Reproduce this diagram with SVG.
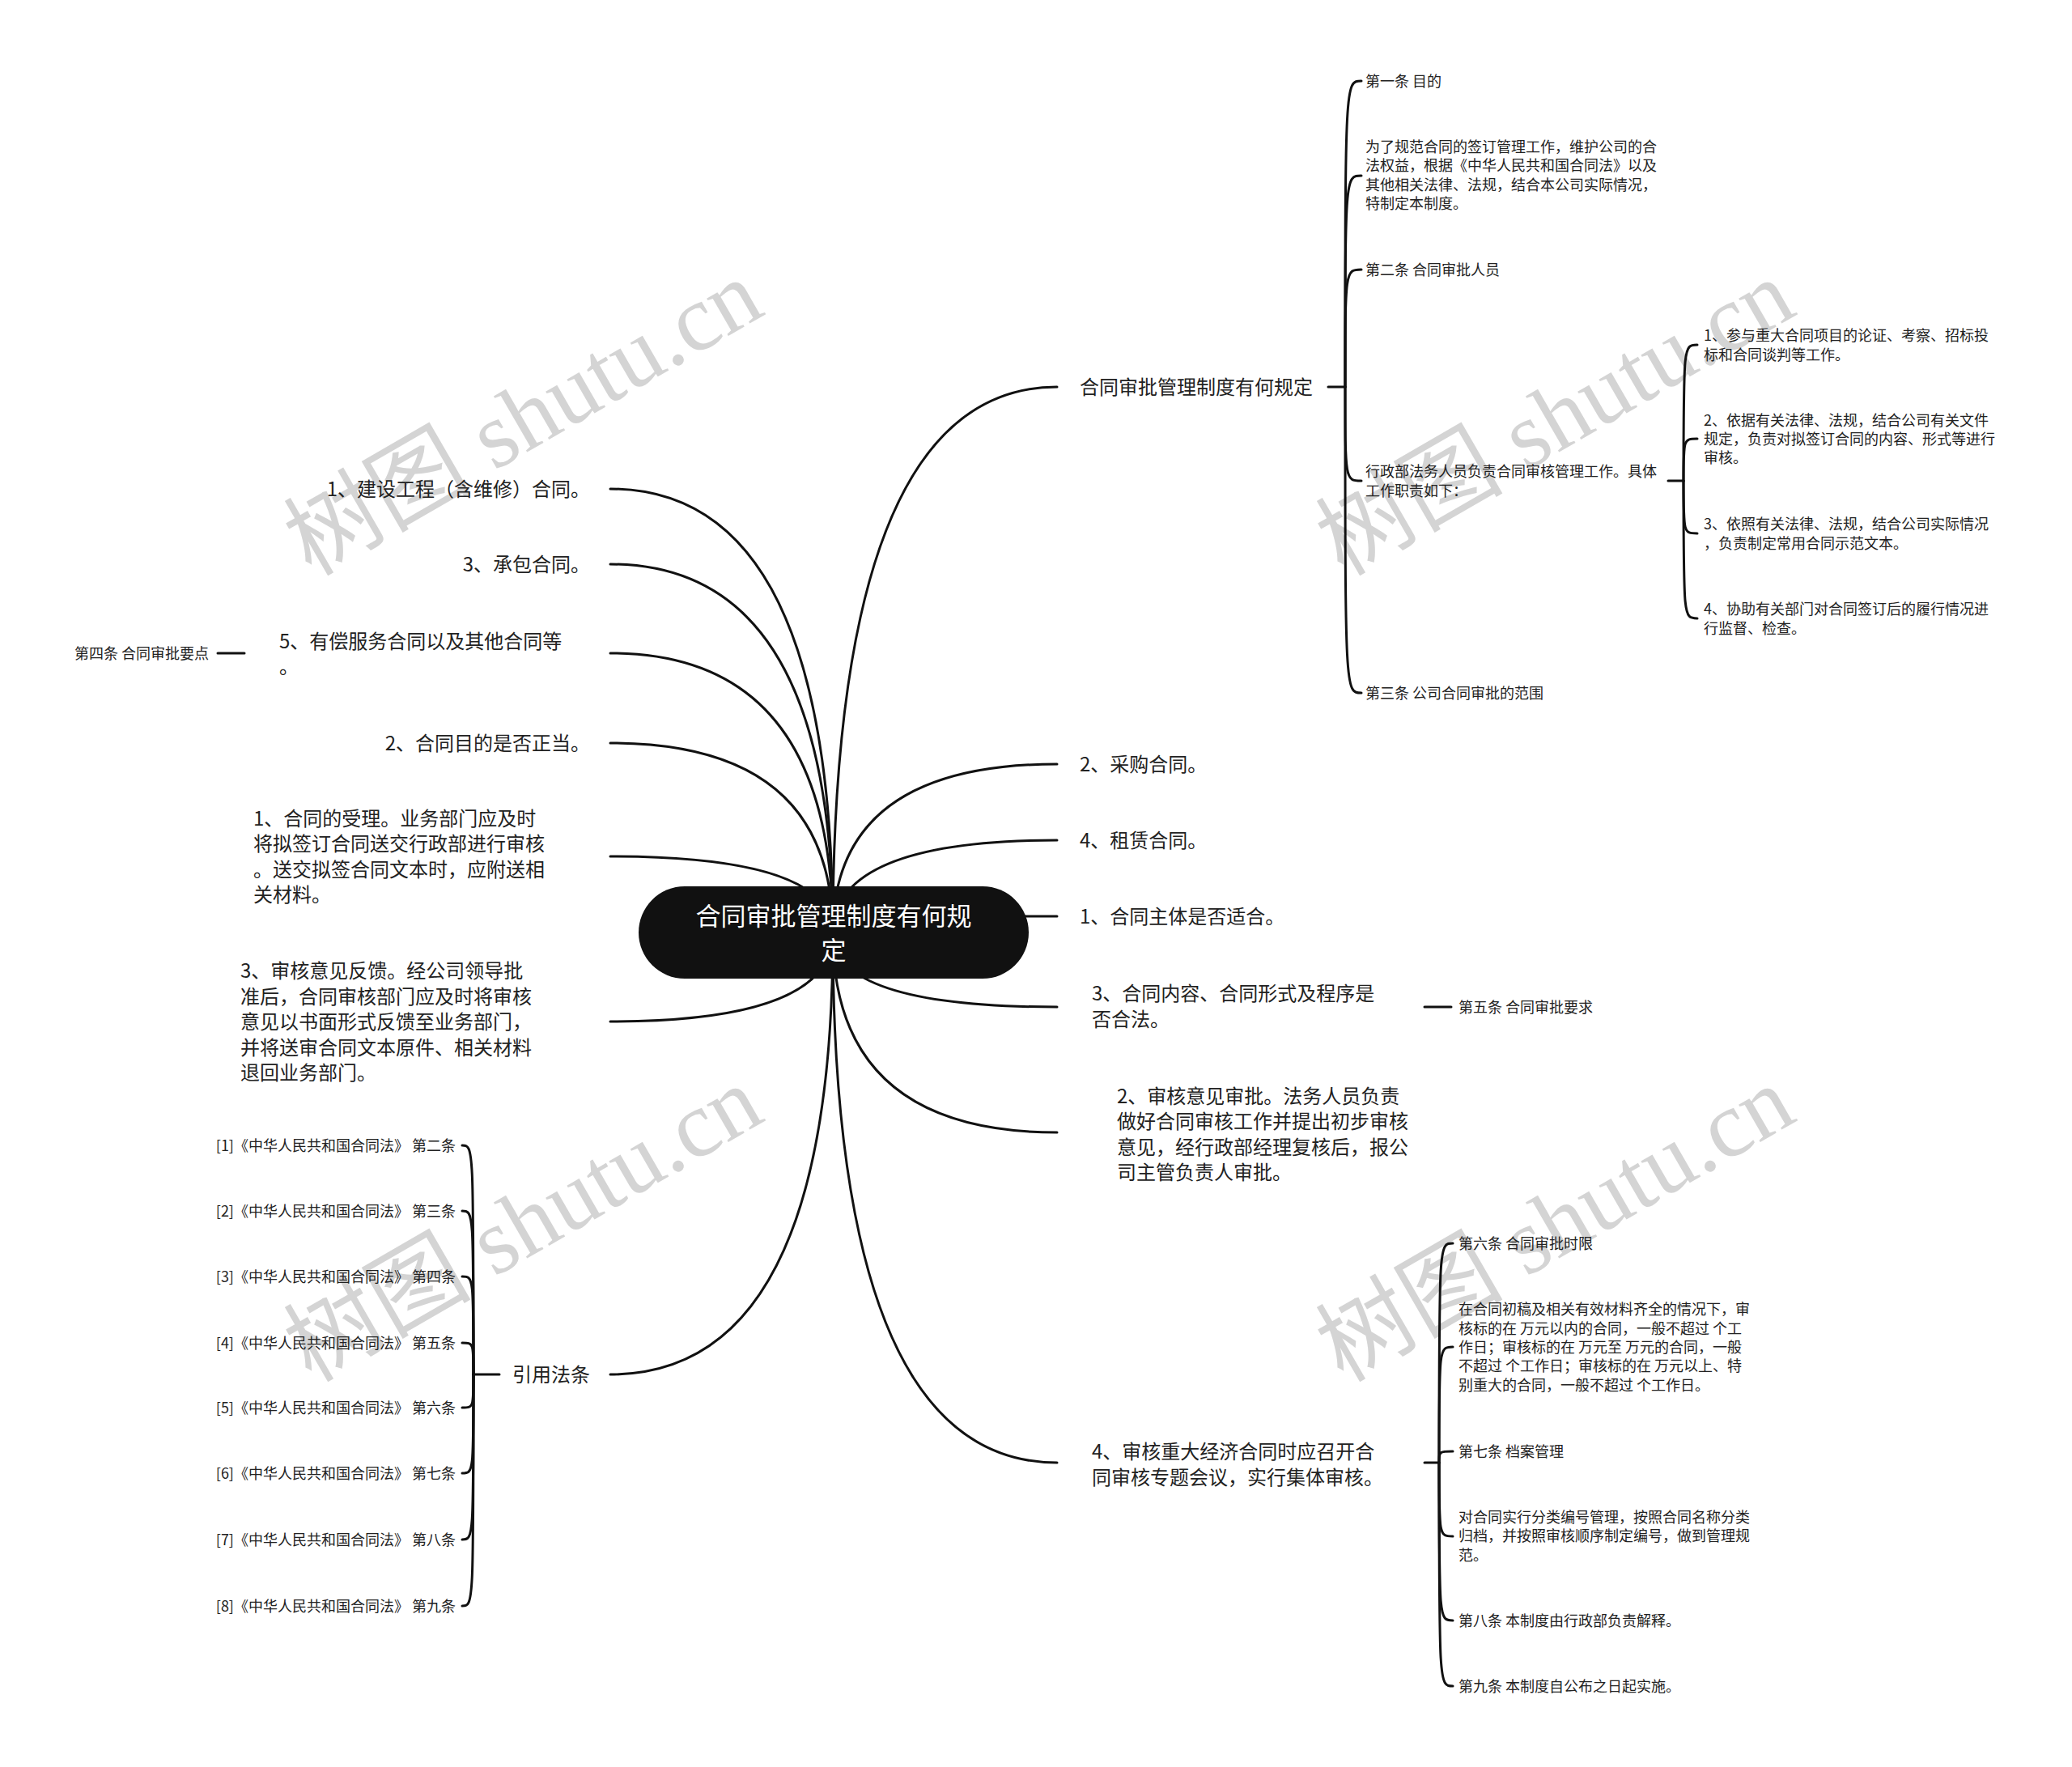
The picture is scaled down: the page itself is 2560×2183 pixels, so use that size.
<svg xmlns="http://www.w3.org/2000/svg" width="2560" height="2183" viewBox="0 0 2560 2183">
<style>
text { font-family: "Noto Sans CJK SC", "Noto Sans", sans-serif; }
.t1 { font-size: 24px; fill: #222; }
.t2 { font-size: 18px; fill: #222; }
.title { font-size: 31px; fill: #fff; }
.link { fill: none; stroke: #111; stroke-width: 3; stroke-linecap: round; }
.wm { font-family: "Liberation Serif", "Noto Sans CJK SC", serif; font-size: 116px; fill: #d4d4d4; }
</style>
<rect x="0" y="0" width="2560" height="2183" fill="#fff"/>
<g id="watermarks">
<text class="wm" x="666" y="550" text-anchor="middle" transform="rotate(-30 666 550)">树图 shutu.cn</text>
<text class="wm" x="1941" y="550" text-anchor="middle" transform="rotate(-30 1941 550)">树图 shutu.cn</text>
<text class="wm" x="666" y="1546" text-anchor="middle" transform="rotate(-30 666 1546)">树图 shutu.cn</text>
<text class="wm" x="1941" y="1546" text-anchor="middle" transform="rotate(-30 1941 1546)">树图 shutu.cn</text>
</g>
<g id="connectors">
<path class="link" d="M1029 1153 Q1029 478 1306 478"/>
<path class="link" d="M1029 1153 Q1029 944 1306 944"/>
<path class="link" d="M1029 1153 Q1029 1038 1306 1038"/>
<path class="link" d="M1029 1132 H1306"/>
<path class="link" d="M1029 1153 Q1029 1244 1306 1244"/>
<path class="link" d="M1029 1153 Q1029 1399 1306 1399"/>
<path class="link" d="M1029 1153 Q1029 1807 1306 1807"/>
<path class="link" d="M1029 1153 Q1029 604 754 604"/>
<path class="link" d="M1029 1153 Q1029 697 754 697"/>
<path class="link" d="M1029 1153 Q1029 807 754 807"/>
<path class="link" d="M1029 1153 Q1029 918 754 918"/>
<path class="link" d="M1029 1153 Q1029 1058 754 1058"/>
<path class="link" d="M1029 1153 Q1029 1262 754 1262"/>
<path class="link" d="M1029 1153 Q1029 1698 754 1698"/>
<!-- R1 bracket -->
<path class="link" d="M1641 478 H1662"/>
<path class="link" d="M1662 478 C1662 100 1662 100 1682 100"/>
<path class="link" d="M1662 478 C1662 217 1662 217 1682 217"/>
<path class="link" d="M1662 478 C1662 333 1662 333 1682 333"/>
<path class="link" d="M1662 478 C1662 594 1662 594 1682 594"/>
<path class="link" d="M1662 478 C1662 856 1662 856 1682 856"/>
<!-- sub bracket -->
<path class="link" d="M2061 594 H2080"/>
<path class="link" d="M2080 594 C2080 426 2080 426 2097 426"/>
<path class="link" d="M2080 594 C2080 542 2080 542 2097 542"/>
<path class="link" d="M2080 594 C2080 659 2080 659 2097 659"/>
<path class="link" d="M2080 594 C2080 764 2080 764 2097 764"/>
<!-- R5 child -->
<path class="link" d="M1760 1244 H1793"/>
<!-- R7 bracket -->
<path class="link" d="M1760 1807 H1778"/>
<path class="link" d="M1778 1807 C1778 1536 1778 1536 1795 1536"/>
<path class="link" d="M1778 1807 C1778 1664 1778 1664 1795 1664"/>
<path class="link" d="M1778 1807 C1778 1793 1778 1793 1795 1793"/>
<path class="link" d="M1778 1807 C1778 1898 1778 1898 1795 1898"/>
<path class="link" d="M1778 1807 C1778 2002 1778 2002 1795 2002"/>
<path class="link" d="M1778 1807 C1778 2083 1778 2083 1795 2083"/>
<!-- L3 child -->
<path class="link" d="M302 807 H269"/>
<!-- L7 bracket -->
<path class="link" d="M617 1698 H585"/>
<path class="link" d="M585 1698 C585 1415 585 1415 571 1415"/>
<path class="link" d="M585 1698 C585 1496 585 1496 571 1496"/>
<path class="link" d="M585 1698 C585 1577 585 1577 571 1577"/>
<path class="link" d="M585 1698 C585 1659 585 1659 571 1659"/>
<path class="link" d="M585 1698 C585 1739 585 1739 571 1739"/>
<path class="link" d="M585 1698 C585 1820 585 1820 571 1820"/>
<path class="link" d="M585 1698 C585 1902 585 1902 571 1902"/>
<path class="link" d="M585 1698 C585 1984 585 1984 571 1984"/>
</g>
<g id="root">
<rect x="789" y="1095" width="482" height="114" rx="57" fill="#111"/>
<text class="title" text-anchor="middle"><tspan x="1030" y="1143">合同审批管理制度有何规</tspan><tspan x="1030" y="1185">定</tspan></text>
</g>
<g id="n-r1"><text class="t1" x="1334" y="487">合同审批管理制度有何规定</text></g>
<g id="n-r1-1"><text class="t2" x="1687" y="107">第一条 目的</text></g>
<g id="n-r1-2"><text class="t2"><tspan x="1687" y="188">为了规范合同的签订管理工作，维护公司的合</tspan><tspan x="1687" y="211">法权益，根据《中华人民共和国合同法》以及</tspan><tspan x="1687" y="235">其他相关法律、法规，结合本公司实际情况，</tspan><tspan x="1687" y="258">特制定本制度。</tspan></text></g>
<g id="n-r1-3"><text class="t2" x="1687" y="340">第二条 合同审批人员</text></g>
<g id="n-r1-4"><text class="t2"><tspan x="1687" y="589">行政部法务人员负责合同审核管理工作。具体</tspan><tspan x="1687" y="613">工作职责如下：</tspan></text></g>
<g id="n-r1-4-1"><text class="t2"><tspan x="2105" y="421">1、参与重大合同项目的论证、考察、招标投</tspan><tspan x="2105" y="445">标和合同谈判等工作。</tspan></text></g>
<g id="n-r1-4-2"><text class="t2"><tspan x="2105" y="526">2、依据有关法律、法规，结合公司有关文件</tspan><tspan x="2105" y="549">规定，负责对拟签订合同的内容、形式等进行</tspan><tspan x="2105" y="572">审核。</tspan></text></g>
<g id="n-r1-4-3"><text class="t2"><tspan x="2105" y="654">3、依照有关法律、法规，结合公司实际情况</tspan><tspan x="2105" y="678">，负责制定常用合同示范文本。</tspan></text></g>
<g id="n-r1-4-4"><text class="t2"><tspan x="2105" y="759">4、协助有关部门对合同签订后的履行情况进</tspan><tspan x="2105" y="783">行监督、检查。</tspan></text></g>
<g id="n-r1-5"><text class="t2" x="1687" y="863">第三条 公司合同审批的范围</text></g>
<g id="n-r2"><text class="t1" x="1334" y="953">2、采购合同。</text></g>
<g id="n-r3"><text class="t1" x="1334" y="1047">4、租赁合同。</text></g>
<g id="n-r4"><text class="t1" x="1334" y="1141">1、合同主体是否适合。</text></g>
<g id="n-r5"><text class="t1"><tspan x="1349" y="1236">3、合同内容、合同形式及程序是</tspan><tspan x="1349" y="1268">否合法。</tspan></text></g>
<g id="n-r5-1"><text class="t2" x="1802" y="1251">第五条 合同审批要求</text></g>
<g id="n-r6"><text class="t1"><tspan x="1380" y="1363">2、审核意见审批。法务人员负责</tspan><tspan x="1380" y="1394">做好合同审核工作并提出初步审核</tspan><tspan x="1380" y="1426">意见，经行政部经理复核后，报公</tspan><tspan x="1380" y="1457">司主管负责人审批。</tspan></text></g>
<g id="n-r7"><text class="t1"><tspan x="1349" y="1802">4、审核重大经济合同时应召开合</tspan><tspan x="1349" y="1834">同审核专题会议，实行集体审核。</tspan></text></g>
<g id="n-r7-1"><text class="t2" x="1802" y="1543">第六条 合同审批时限</text></g>
<g id="n-r7-2"><text class="t2"><tspan x="1802" y="1624">在合同初稿及相关有效材料齐全的情况下，审</tspan><tspan x="1802" y="1648">核标的在 万元以内的合同，一般不超过 个工</tspan><tspan x="1802" y="1671">作日；审核标的在 万元至 万元的合同，一般</tspan><tspan x="1802" y="1694">不超过 个工作日；审核标的在 万元以上、特</tspan><tspan x="1802" y="1718">别重大的合同，一般不超过 个工作日。</tspan></text></g>
<g id="n-r7-3"><text class="t2" x="1802" y="1800">第七条 档案管理</text></g>
<g id="n-r7-4"><text class="t2"><tspan x="1802" y="1881">对合同实行分类编号管理，按照合同名称分类</tspan><tspan x="1802" y="1904">归档，并按照审核顺序制定编号，做到管理规</tspan><tspan x="1802" y="1928">范。</tspan></text></g>
<g id="n-r7-5"><text class="t2" x="1802" y="2009">第八条 本制度由行政部负责解释。</text></g>
<g id="n-r7-6"><text class="t2" x="1802" y="2090">第九条 本制度自公布之日起实施。</text></g>
<g id="n-l1"><text class="t1" x="729" y="613" text-anchor="end">1、建设工程（含维修）合同。</text></g>
<g id="n-l2"><text class="t1" x="729" y="706" text-anchor="end">3、承包合同。</text></g>
<g id="n-l3"><text class="t1"><tspan x="345" y="801">5、有偿服务合同以及其他合同等</tspan><tspan x="345" y="832">。</tspan></text></g>
<g id="n-l3-1"><text class="t2" x="258" y="814" text-anchor="end">第四条 合同审批要点</text></g>
<g id="n-l4"><text class="t1" x="729" y="927" text-anchor="end">2、合同目的是否正当。</text></g>
<g id="n-l5"><text class="t1"><tspan x="313" y="1020">1、合同的受理。业务部门应及时</tspan><tspan x="313" y="1051">将拟签订合同送交行政部进行审核</tspan><tspan x="313" y="1083">。送交拟签合同文本时，应附送相</tspan><tspan x="313" y="1114">关材料。</tspan></text></g>
<g id="n-l6"><text class="t1"><tspan x="297" y="1208">3、审核意见反馈。经公司领导批</tspan><tspan x="297" y="1240">准后，合同审核部门应及时将审核</tspan><tspan x="297" y="1271">意见以书面形式反馈至业务部门，</tspan><tspan x="297" y="1303">并将送审合同文本原件、相关材料</tspan><tspan x="297" y="1334">退回业务部门。</tspan></text></g>
<g id="n-l7"><text class="t1" x="633" y="1707">引用法条</text></g>
<g id="n-l7-1"><text class="t2" x="563" y="1422" text-anchor="end">[1]《中华人民共和国合同法》 第二条</text></g>
<g id="n-l7-2"><text class="t2" x="563" y="1503" text-anchor="end">[2]《中华人民共和国合同法》 第三条</text></g>
<g id="n-l7-3"><text class="t2" x="563" y="1584" text-anchor="end">[3]《中华人民共和国合同法》 第四条</text></g>
<g id="n-l7-4"><text class="t2" x="563" y="1666" text-anchor="end">[4]《中华人民共和国合同法》 第五条</text></g>
<g id="n-l7-5"><text class="t2" x="563" y="1746" text-anchor="end">[5]《中华人民共和国合同法》 第六条</text></g>
<g id="n-l7-6"><text class="t2" x="563" y="1827" text-anchor="end">[6]《中华人民共和国合同法》 第七条</text></g>
<g id="n-l7-7"><text class="t2" x="563" y="1909" text-anchor="end">[7]《中华人民共和国合同法》 第八条</text></g>
<g id="n-l7-8"><text class="t2" x="563" y="1991" text-anchor="end">[8]《中华人民共和国合同法》 第九条</text></g>
</svg>
